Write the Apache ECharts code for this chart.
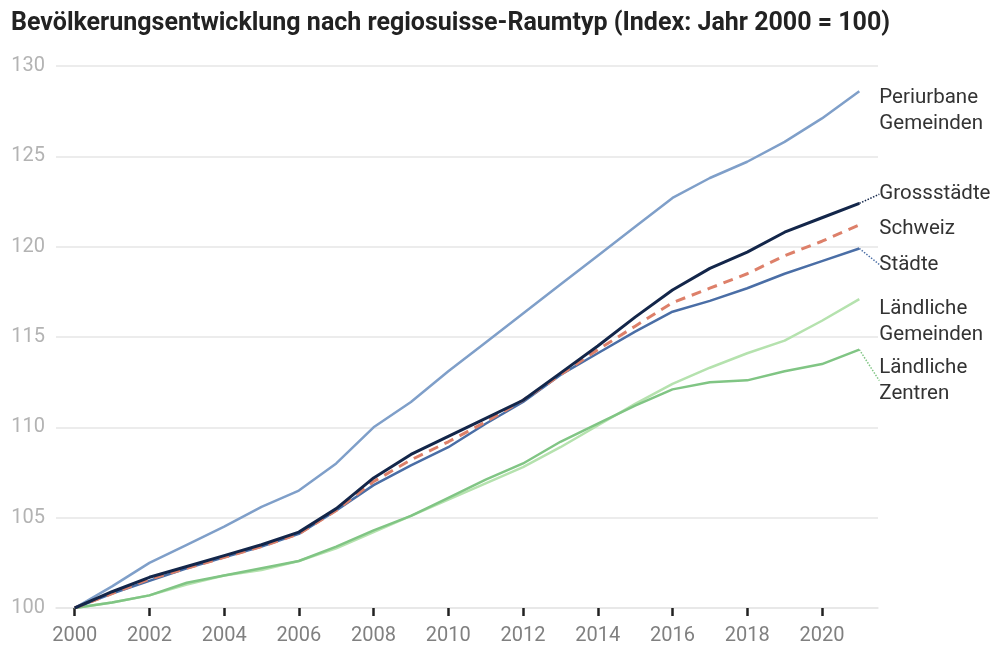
<!DOCTYPE html>
<html>
<head>
<meta charset="utf-8">
<script src="https://cdn.jsdelivr.net/npm/echarts@6/dist/echarts.min.js"></script>
<style>
  html, body { margin: 0; padding: 0; background: #fff; }
  #chart { width: 998px; height: 653px; }
</style>
</head>
<body>
<div id="chart"></div>
<script>
// Jahre und Indexwerte (2000 = 100)
const years = ['2000', '2001', '2002', '2003', '2004', '2005', '2006', '2007', '2008', '2009', '2010',
  '2011', '2012', '2013', '2014', '2015', '2016', '2017', '2018', '2019', '2020', '2021'];

const periurban = [100, 101.2, 102.5, 103.5, 104.5, 105.6, 106.5, 108.0, 110.0, 111.4, 113.1,
  114.7, 116.3, 117.9, 119.5, 121.1, 122.7, 123.8, 124.7, 125.8, 127.1, 128.6];
const grossstaedte = [100, 100.9, 101.7, 102.3, 102.9, 103.5, 104.2, 105.5, 107.2, 108.5, 109.5,
  110.5, 111.5, 113.0, 114.5, 116.1, 117.6, 118.8, 119.7, 120.8, 121.6, 122.4];
const schweiz = [100, 100.8, 101.6, 102.2, 102.8, 103.4, 104.1, 105.4, 107.0, 108.2, 109.2,
  110.3, 111.5, 112.9, 114.3, 115.6, 116.9, 117.7, 118.5, 119.5, 120.3, 121.2];
const staedte = [100, 100.8, 101.5, 102.2, 102.8, 103.4, 104.1, 105.4, 106.8, 107.9, 108.9,
  110.2, 111.4, 112.9, 114.1, 115.3, 116.4, 117.0, 117.7, 118.5, 119.2, 119.9];
const laendlGemeinden = [100, 100.3, 100.7, 101.3, 101.8, 102.1, 102.6, 103.3, 104.2, 105.1, 106.0,
  106.9, 107.8, 108.9, 110.1, 111.3, 112.4, 113.3, 114.1, 114.8, 115.9, 117.1];
const laendlZentren = [100, 100.3, 100.7, 101.4, 101.8, 102.2, 102.6, 103.4, 104.3, 105.1, 106.1,
  107.1, 108.0, 109.2, 110.2, 111.2, 112.1, 112.5, 112.6, 113.1, 113.5, 114.3];

const chart = echarts.init(document.getElementById('chart'));

function makeSeries(name, label, values, color, width, dy, guide, dashed) {
  const data = values.map((v, i) => {
    if (i < values.length - 1) return v;
    return {
      value: v,
      label: {
        show: true,
        position: 'right',
        distance: 20,
        formatter: label,
        color: '#333',
        fontSize: 20.5,
        lineHeight: 26,
        fontFamily: 'Roboto'
      }
    };
  });
  return {
    name: name,
    type: 'line',
    data: data,
    symbol: 'circle',
    symbolSize: 0,
    showSymbol: true,
    silent: true,
    lineStyle: { color: color, width: width, type: dashed ? [10, 7] : 'solid' },
    itemStyle: { color: color },
    labelLayout: { dy: dy },
    labelLine: {
      show: guide,
      lineStyle: { color: color, width: 1.5, type: 'dotted' }
    }
  };
}

const option = {
  animation: false,
  title: {
    text: 'Bevölkerungsentwicklung nach regiosuisse-Raumtyp (Index: Jahr 2000 = 100)',
    left: 6,
    top: 6,
    textStyle: { fontFamily: 'Roboto', fontWeight: 'bold', fontSize: 25, color: '#222' }
  },
  grid: { left: 56, right: 120, top: 66, bottom: 45 },
  xAxis: {
    type: 'category',
    data: years,
    boundaryGap: true,
    axisLine: { show: true, lineStyle: { color: '#e6e6e6', width: 1.5 } },
    axisTick: { show: true, alignWithLabel: true, interval: 1, length: 8, lineStyle: { color: '#222', width: 2.5 } },
    axisLabel: { interval: 1, margin: 18, fontSize: 20, color: '#808080', fontFamily: 'Roboto' }
  },
  yAxis: {
    type: 'value',
    min: 100,
    max: 130,
    interval: 5,
    axisLine: { show: false },
    axisTick: { show: false },
    axisLabel: { margin: 11, fontSize: 20, color: '#b3b3b3', fontFamily: 'Roboto' },
    splitLine: { lineStyle: { color: '#e6e6e6', width: 1.5 } }
  },
  series: [
    makeSeries('Ländliche Gemeinden', 'Ländliche\nGemeinden', laendlGemeinden, '#b5e2ae', 2.5, 23, false, false),
    makeSeries('Ländliche Zentren', 'Ländliche\nZentren', laendlZentren, '#80c584', 2.5, 31, true, false),
    makeSeries('Periurbane Gemeinden', 'Periurbane\nGemeinden', periurban, '#7f9fc9', 2.5, 20, false, false),
    makeSeries('Städte', 'Städte', staedte, '#4a6ea6', 2.5, 16, true, false),
    makeSeries('Schweiz', 'Schweiz', schweiz, '#dd806a', 3, 4, false, true),
    makeSeries('Grossstädte', 'Grossstädte', grossstaedte, '#13264a', 3, -9, true, false)
  ]
};

chart.setOption(option);
</script>
</body>
</html>
